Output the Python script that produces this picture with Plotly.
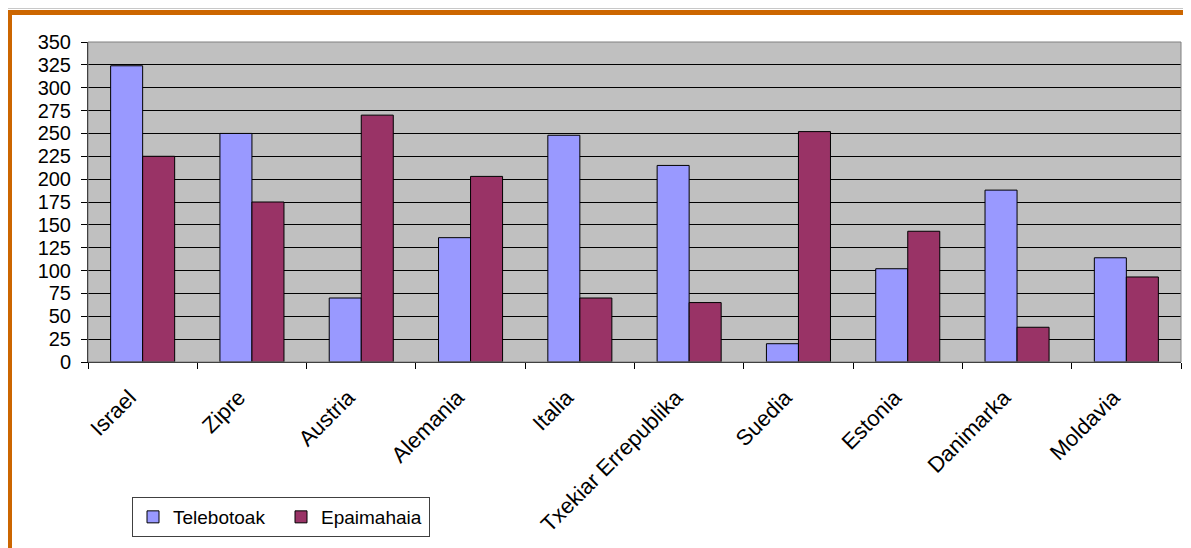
import plotly.graph_objects as go

categories = ["Israel", "Zipre", "Austria", "Alemania", "Italia",
              "Txekiar Errepublika", "Suedia", "Estonia", "Danimarka", "Moldavia"]
telebotoak = [324, 250, 70, 136, 248, 215, 20, 102, 188, 114]
epaimahaia = [225, 175, 270, 203, 70, 65, 252, 143, 38, 93]
series_names = ["Telebotoak", "Epaimahaia"]
y_ticks = list(range(0, 351, 25))
title_text = "Eurobisioa 2018: telebotoak eta epaimahaiaren botoak herrialdeka (Lisboa)"

OFF = 8  # page body margin
W, H = 1191 - OFF, 548 - OFF
L, R, T, B = 80, 10, 34, 186
pw, ph = W - L - R, H - T - B

def px(x_page):
    return (x_page - OFF - L) / pw

def py(y_page):
    return (T + ph - (y_page - OFF)) / ph

FONT = "Liberation Sans, Arial, sans-serif"
NB = "\u00a0"

fig = go.Figure()
fig.add_trace(go.Bar(x=categories, y=telebotoak, name=series_names[0],
                     marker=dict(color="#9999FF", line=dict(color="#000000", width=1))))
fig.add_trace(go.Bar(x=categories, y=epaimahaia, name=series_names[1],
                     marker=dict(color="#993366", line=dict(color="#000000", width=1))))

shapes = [
    dict(type="rect", xref="paper", yref="paper", x0=0, x1=1, y0=0, y1=1,
         line=dict(color="#808080", width=1), layer="above"),
    dict(type="line", xref="paper", yref="paper", x0=px(0), x1=px(1200), y0=py(8.5), y1=py(8.5),
         line=dict(color="#C8C8C8", width=1)),
    dict(type="line", xref="paper", yref="paper", x0=px(7), x1=px(1200), y0=py(12.5), y1=py(12.5),
         line=dict(color="#CC6600", width=5)),
    dict(type="line", xref="paper", yref="paper", x0=px(9.5), x1=px(9.5), y0=py(10), y1=py(560),
         line=dict(color="#CC6600", width=5)),
]

fig.update_layout(
    width=W, height=H,
    margin=dict(l=L, r=R, t=T, b=B, autoexpand=False),
    paper_bgcolor="#FFFFFF",
    plot_bgcolor="#C0C0C0",
    barmode="group",
    bargap=0.414,
    bargroupgap=0,
    font=dict(family=FONT, size=19, color="#000000"),
    showlegend=True,
    legend=dict(orientation="h", x=px(132), y=py(497), xanchor="left", yanchor="top",
                bgcolor="#FFFFFF", bordercolor="#404040", borderwidth=1,
                font=dict(family=FONT, size=19), entrywidth=103, entrywidthmode="pixels",
                traceorder="normal"),
    shapes=shapes,
    annotations=[dict(text="<b>" + title_text + "</b>", xref="paper", yref="paper",
                      x=px(1018), xanchor="right", y=py(10), yanchor="bottom",
                      showarrow=False, font=dict(family=FONT, size=20, color="#000000"))],
)

fig.update_yaxes(range=[0, 350], tickvals=y_ticks, ticktext=[str(v) for v in y_ticks],
                 showgrid=True, gridcolor="#000000", gridwidth=1,
                 showline=True, linecolor="#000000", linewidth=1,
                 ticks="outside", ticklen=6, tickcolor="#000000", ticklabelstandoff=6,
                 tickfont=dict(family=FONT, size=20), zeroline=False, fixedrange=True)
fig.update_xaxes(showline=True, linecolor="#000000", linewidth=1,
                 ticks="outside", ticklen=6, tickcolor="#000000", tickson="boundaries",
                 tickvals=categories, ticktext=[c + NB * 3 for c in categories],
                 tickangle=-45, tickfont=dict(family=FONT, size=22), fixedrange=True)

fig.write_html("out.html", config={"displayModeBar": False})
